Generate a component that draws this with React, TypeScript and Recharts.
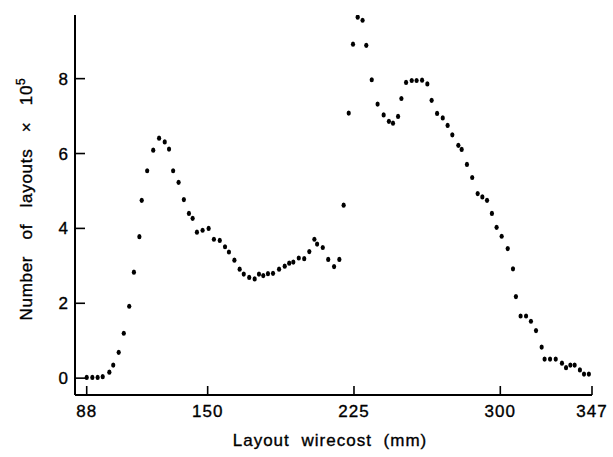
import React from 'react';
import { ScatterChart, Scatter, XAxis, YAxis } from 'recharts';

// values
const wirecost = [
  88.0, 90.9, 93.6, 96.2, 99.6, 101.6, 104.4, 107.0, 109.8, 112.2, 115.0, 116.2,
  119.0, 122.1, 125.1, 128.0, 130.2, 132.3, 135.1, 137.8, 140.4, 142.3, 144.5, 147.4,
  150.5, 153.2, 156.2, 158.9, 160.9, 163.7, 166.4, 168.5, 171.3, 174.1, 176.3, 178.5,
  180.9, 183.5, 186.6, 189.5, 191.8, 193.9, 196.7, 199.5, 202.1, 204.7, 206.1, 209.0,
  211.8, 214.8, 217.5, 219.7, 222.3, 224.5, 226.9, 229.4, 231.3, 234.1, 237.1, 240.2,
  242.9, 245.0, 247.6, 249.3, 251.7, 254.6, 257.1, 259.9, 262.6, 264.8, 267.6, 270.5,
  273.0, 275.4, 278.5, 280.2, 282.9, 285.6, 288.4, 290.8, 293.2, 295.7, 298.1, 300.7,
  303.8, 306.5, 308.0, 310.4, 313.2, 315.7, 318.3, 321.2, 322.7, 325.5, 328.4, 331.6,
  333.7, 335.9, 338.1, 340.8, 342.9, 345.4,
];

const layouts = [
  0.02, 0.02, 0.02, 0.04, 0.16, 0.35, 0.69, 1.2, 1.92, 2.83, 3.78, 4.75,
  5.54, 6.09, 6.41, 6.31, 6.12, 5.54, 5.23, 4.77, 4.4, 4.27, 3.9, 3.95,
  4.0, 3.71, 3.68, 3.51, 3.37, 3.15, 2.91, 2.78, 2.69, 2.65, 2.78, 2.74,
  2.79, 2.8, 2.91, 2.99, 3.07, 3.1, 3.21, 3.19, 3.38, 3.71, 3.58, 3.49,
  3.17, 2.98, 3.17, 4.62, 7.08, 8.92, 9.64, 9.56, 8.89, 7.97, 7.32, 7.03,
  6.86, 6.81, 6.99, 7.47, 7.9, 7.95, 7.95, 7.96, 7.86, 7.42, 7.07, 6.95,
  6.75, 6.5, 6.22, 6.11, 5.71, 5.36, 4.93, 4.84, 4.75, 4.4, 4.03, 3.79,
  3.46, 2.92, 2.18, 1.66, 1.66, 1.52, 1.27, 0.83, 0.51, 0.51, 0.51, 0.4,
  0.28, 0.35, 0.35, 0.22, 0.11, 0.11,
];

const xTicks = [88, 150, 225, 300, 347];
const yTicks = [0, 2, 4, 6, 8];

const data = wirecost.map((x, i) => ({ x, y: layouts[i] }));

const FONT = '"Liberation Sans", Arial, Helvetica, sans-serif';
// scanned type looks a bit heavier than regular
const heavy = { stroke: '#000', strokeWidth: 0.35 };

const Dot = (props: any) => {
  const { cx, cy } = props;
  if (cx == null || cy == null) return null;
  return <ellipse cx={cx} cy={cy} rx={2.1} ry={2.6} fill="#000" />;
};

const XTick = (props: any) => {
  const { x, y, payload } = props;
  return (
    <g>
      <line x1={x} y1={y} x2={x} y2={y - 9} stroke="#000" strokeWidth={1.6} />
      <text
        x={x}
        y={y + 22}
        textAnchor="middle"
        fontFamily={FONT}
        fontSize={17}
        letterSpacing={1}
        fill="#000"
        {...heavy}
      >
        {payload.value}
      </text>
    </g>
  );
};

const YTick = (props: any) => {
  const { x, y, payload } = props;
  return (
    <g>
      <line x1={x} y1={y} x2={x + 10} y2={y} stroke="#000" strokeWidth={1.6} />
      <text
        x={x - 7}
        y={y + 6}
        textAnchor="end"
        fontFamily={FONT}
        fontSize={17}
        fill="#000"
        {...heavy}
      >
        {payload.value}
      </text>
    </g>
  );
};

const YTitle = () => (
  <text
    transform="translate(32,199) rotate(-90)"
    textAnchor="middle"
    fontFamily={FONT}
    fontSize={17}
    letterSpacing={0.7}
    wordSpacing={11}
    fill="#000"
    {...heavy}
  >
    Number of layouts × 10
    <tspan dy={-7} fontSize={12}>
      5
    </tspan>
  </text>
);

const XTitle = () => (
  <text
    x={330}
    y={446}
    textAnchor="middle"
    fontFamily={FONT}
    fontSize={17}
    letterSpacing={1}
    wordSpacing={6}
    fill="#000"
    {...heavy}
  >
    Layout wirecost (mm)
  </text>
);

const App = () => {
  return (
    <div style={{ position: 'absolute', left: 0, top: 0, background: '#fff' }}>
      <ScatterChart
        width={613}
        height={457}
        margin={{ top: 15, right: 21, bottom: 20, left: 20 }}
      >
        <XAxis
          type="number"
          dataKey="x"
          domain={[82, 347]}
          ticks={xTicks}
          interval={0}
          height={42}
          tickSize={0}
          tickMargin={0}
          tickLine={false}
          axisLine={{ stroke: '#000', strokeWidth: 2 }}
          tick={<XTick />}
          label={<XTitle />}
          allowDataOverflow
        />
        <YAxis
          type="number"
          dataKey="y"
          domain={[-0.45, 9.7]}
          ticks={yTicks}
          interval={0}
          width={55}
          tickSize={0}
          tickMargin={0}
          tickLine={false}
          axisLine={{ stroke: '#000', strokeWidth: 2 }}
          tick={<YTick />}
          label={<YTitle />}
          allowDataOverflow
        />
        <Scatter data={data} shape={<Dot />} isAnimationActive={false} />
      </ScatterChart>
    </div>
  );
};

export default App;
